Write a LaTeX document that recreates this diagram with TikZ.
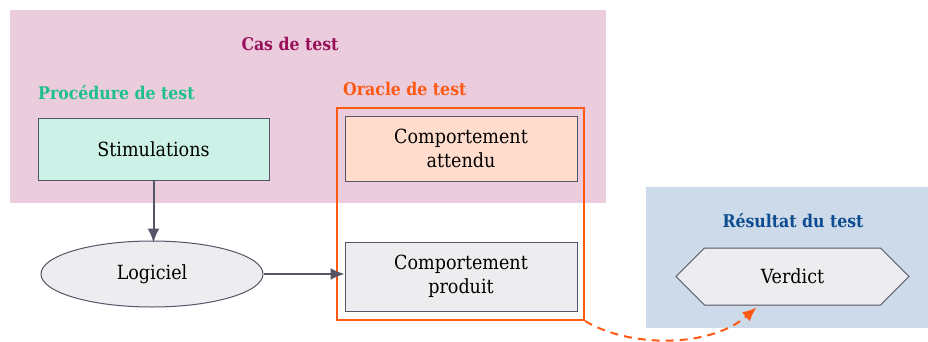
\documentclass[tikz,border=0pt]{standalone}
\usepackage{fontspec}
\setmainfont{DejaVu Serif Condensed}
\usetikzlibrary{arrows.meta,shapes.geometric,shapes.symbols,calc}
\definecolor{pinkbg}{HTML}{EBCCDC}
\definecolor{castitle}{HTML}{99105A}
\definecolor{proctitle}{HTML}{1DBF8C}
\definecolor{oracol}{HTML}{FF5A14}
\definecolor{stimfill}{HTML}{CCF2E8}
\definecolor{attfill}{HTML}{FFDCCC}
\definecolor{greyfill}{HTML}{EDEDF0}
\definecolor{bluebg}{HTML}{CCDAE9}
\definecolor{bluetitle}{HTML}{0E4C90}
\definecolor{edgecol}{HTML}{555566}
\tikzset{
  zone/.style={draw=none,inner sep=0pt,anchor=north west},
  ztitle/.style={font=\fontsize{17.5}{20}\selectfont\bfseries,inner sep=0pt},
  boxnode/.style={draw=edgecol,line width=1pt,rectangle,align=center,inner sep=0pt,font=\fontsize{19.5}{24}\selectfont},
  conn/.style={draw=edgecol,line width=2pt,-{Latex[length=14pt,width=12pt]}},
}
\begin{document}
\begin{tikzpicture}[x=1pt,y=-1pt]
\useasboundingbox (0,0) rectangle (928,341);
% zones
\node[zone,fill=pinkbg,minimum width=596pt,minimum height=193pt] (cas) at (10,10) {};
\node[zone,fill=bluebg,minimum width=282pt,minimum height=141pt] (res) at (646,187) {};
% titles
\node[ztitle,text=castitle] (castxt) at (290,44) {Cas de test};
\node[ztitle,text=proctitle,anchor=west] (proctxt) at (38,93) {Procédure de test};
\node[ztitle,text=oracol,anchor=west] (oratxt) at (343,89) {Oracle de test};
\node[ztitle,text=bluetitle] (restxt) at (793,221) {Résultat du test};
% boxes
\node[boxnode,fill=stimfill,minimum width=231pt,minimum height=62pt] (stim) at (153.5,149) {Stimulations};
\node[boxnode,fill=attfill,minimum width=232pt,minimum height=65pt] (att) at (461,148.5) {Comportement\\attendu};
\node[boxnode,fill=greyfill,minimum width=232pt,minimum height=69pt] (prod) at (461,276.5) {Comportement\\produit};
\node[draw=oracol,line width=2pt,rectangle,inner sep=0pt,minimum width=247pt,minimum height=212pt] (oracle) at (460.5,214) {};
\node[boxnode,ellipse,fill=greyfill,minimum width=222pt,minimum height=66pt] (log) at (152,274) {Logiciel};
\node[boxnode,signal,signal to=west and east,signal pointer angle=90,fill=greyfill,minimum width=233pt,minimum height=57pt] (verdict) at (792.5,276.5) {Verdict};
\coordinate (vend) at ($(verdict.south)+(-36,2)$);
% connectors
\draw[conn] (stim.south) -- ([yshift=-2pt]stim.south |- log.north);
\draw[conn] (log.east) -- (log.east -| prod.west);
\draw[draw=oracol,line width=2pt,dash pattern=on 8pt off 6pt,-{Latex[length=14pt,width=12pt]}] (oracle.south east) .. controls (630,348) and (710,348) .. (vend);
\end{tikzpicture}
\end{document}
